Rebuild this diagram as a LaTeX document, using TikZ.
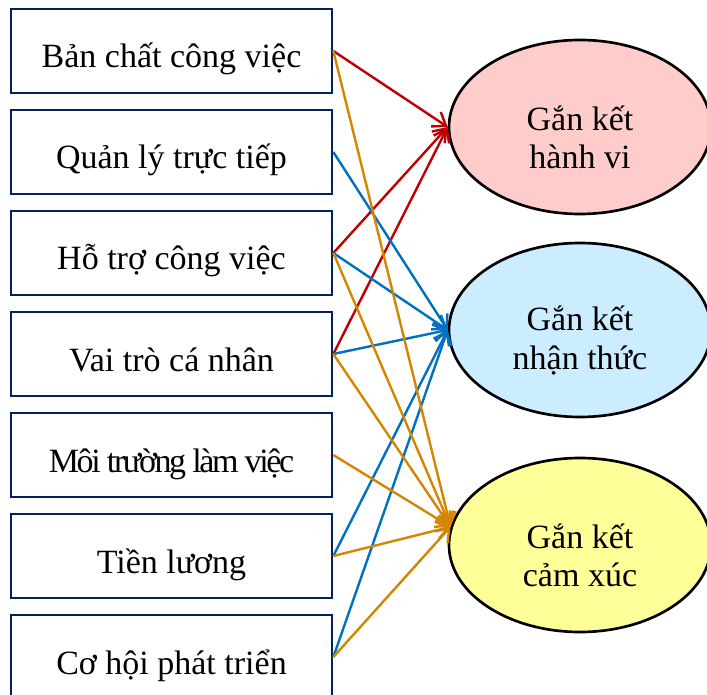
\documentclass[tikz,border=0pt]{standalone}
\usepackage{fontspec}
\setmainfont{Liberation Serif}
\usepackage{xcolor}
\usepackage{tikz}
\usetikzlibrary{shapes.geometric,arrows.meta,positioning}

\definecolor{boxline}{RGB}{0,32,96}
\definecolor{linkred}{RGB}{192,0,0}
\definecolor{linkblue}{RGB}{0,112,192}
\definecolor{linkorange}{RGB}{212,134,0}
\definecolor{fillpink}{RGB}{255,204,204}
\definecolor{fillblue}{RGB}{204,236,255}
\definecolor{fillyellow}{RGB}{255,255,153}

\begin{document}
\begin{tikzpicture}[
    x=0.75pt, y=-0.75pt,
    factor/.style={draw=boxline, line width=2pt, rectangle, minimum width=240.75pt, minimum height=63pt, inner sep=0pt, text height=28pt, text depth=2.5pt, font=\fontsize{25.5}{29}\selectfont},
    outcome/.style={draw=black, line width=2pt, ellipse, minimum width=196.5pt, minimum height=130.5pt, inner sep=0pt, align=center, font=\fontsize{25.5}{29}\selectfont},
    link/.style={line width=1.8pt, -{Straight Barb[length=9pt,width=13pt,line width=1.8pt]}}
]
    \useasboundingbox (0,0) rectangle (707,695);

    % Factors
    \foreach \i/\txt in {1/Bản chất công việc, 2/Quản lý trực tiếp, 3/Hỗ trợ công việc, 4/Vai trò cá nhân, 5/{\addfontfeature{LetterSpace=-7}Môi trường làm việc}, 6/Tiền lương, 7/Cơ hội phát triển} {
        \node [factor] (f\i) at (171.5, {51+101*(\i-1)}) {\txt};
    }

    % Engagement
    \node [outcome, fill=fillpink] (e1) at (580,127) {\rule{0pt}{34pt}Gắn kết\\hành vi};
    \node [outcome, fill=fillblue] (e2) at (580,330) {\rule{0pt}{34pt}Gắn kết\\nhận thức};
    \node [outcome, fill=fillyellow] (e3) at (580,545) {\rule{0pt}{34pt}Gắn kết\\cảm xúc};

    % Links
    \foreach \i in {1,3,4} {
        \draw [link, linkred] (f\i.east) -- (e1.west);
    }
    \foreach \i in {2,3,4,6,7} {
        \draw [link, linkblue] (f\i.east) -- (e2.west);
    }
    \foreach \i in {1,3,4,5,6,7} {
        \draw [link, linkorange] (f\i.east) -- (e3.172);
    }
\end{tikzpicture}
\end{document}
